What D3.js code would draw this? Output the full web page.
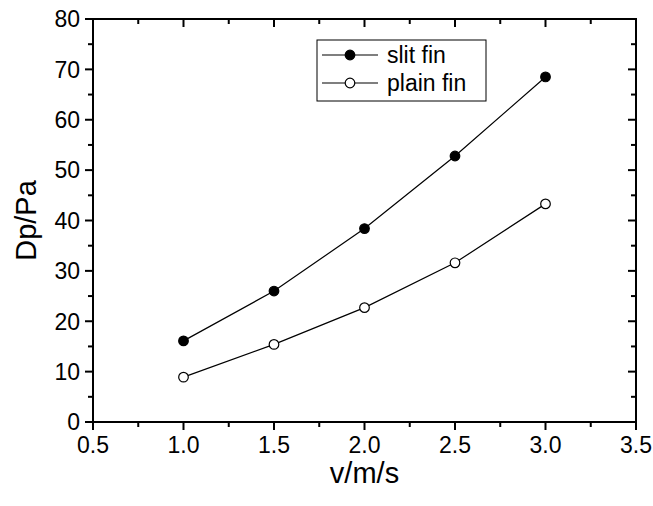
<!DOCTYPE html>
<html>
<head>
<meta charset="utf-8">
<script src="https://cdn.jsdelivr.net/npm/d3@7"></script>
<style>
  html, body { margin: 0; padding: 0; background: #fff; }
  svg text { font-family: "Liberation Sans", Arial, sans-serif; fill: #000; }
</style>
</head>
<body>
<svg id="chart" width="653" height="506"></svg>
<script>
// Air velocity (m/s) and pressure drop (Pa) for the two fin types
const velocity = [1.0, 1.5, 2.0, 2.5, 3.0];
const slitFin  = [16.1, 26.0, 38.4, 52.8, 68.5];
const plainFin = [8.9, 15.4, 22.7, 31.6, 43.3];
const seriesNames = ["slit fin", "plain fin"];
const xTicks = [0.5, 1.0, 1.5, 2.0, 2.5, 3.0, 3.5];
const yTicks = [0, 10, 20, 30, 40, 50, 60, 70, 80];

const svg = d3.select("#chart");
const plot = { left: 93, right: 636, top: 19, bottom: 422 };

const x = d3.scaleLinear().domain([0.5, 3.5]).range([plot.left, plot.right]);
const y = d3.scaleLinear().domain([0, 80]).range([plot.bottom, plot.top]);

const xMinor = d3.range(0.75, 3.5, 0.5);
const yMinor = d3.range(5, 80, 10);

// Major and minor ticks: outward on bottom/left, inward on top/right
const ticks = svg.append("g").attr("stroke", "#000").attr("stroke-width", 2);
function xTick(v, len) {
  ticks.append("line").attr("x1", x(v)).attr("x2", x(v)).attr("y1", plot.bottom).attr("y2", plot.bottom + len);
  ticks.append("line").attr("x1", x(v)).attr("x2", x(v)).attr("y1", plot.top).attr("y2", plot.top + len);
}
function yTick(v, len) {
  ticks.append("line").attr("y1", y(v)).attr("y2", y(v)).attr("x1", plot.left).attr("x2", plot.left - len);
  ticks.append("line").attr("y1", y(v)).attr("y2", y(v)).attr("x1", plot.right).attr("x2", plot.right - len);
}
xTicks.forEach(v => xTick(v, 8));
xMinor.forEach(v => xTick(v, 5));
yTicks.forEach(v => yTick(v, 8));
yMinor.forEach(v => yTick(v, 5));

// Frame
svg.append("rect")
  .attr("x", plot.left).attr("y", plot.top)
  .attr("width", plot.right - plot.left).attr("height", plot.bottom - plot.top)
  .attr("fill", "none").attr("stroke", "#000").attr("stroke-width", 2);

// Tick labels
svg.append("g").selectAll("text").data(xTicks).join("text")
  .attr("x", d => x(d)).attr("y", plot.bottom + 31)
  .attr("text-anchor", "middle").attr("font-size", 23)
  .text(d => d.toFixed(1));

svg.append("g").selectAll("text").data(yTicks).join("text")
  .attr("x", plot.left - 13).attr("y", d => y(d)).attr("dy", "0.36em")
  .attr("text-anchor", "end").attr("font-size", 23)
  .text(d => d);

// Axis titles
svg.append("text")
  .attr("x", (plot.left + plot.right) / 2).attr("y", 483)
  .attr("text-anchor", "middle").attr("font-size", 29)
  .text("v/m/s");

svg.append("text")
  .attr("transform", `translate(36,${(plot.top + plot.bottom) / 2}) rotate(-90)`)
  .attr("text-anchor", "middle").attr("font-size", 29)
  .text("Dp/Pa");

// Series
const line = d3.line().x(d => x(d[0])).y(d => y(d[1]));
const series = [
  { name: seriesNames[0], values: slitFin, fill: "#000" },
  { name: seriesNames[1], values: plainFin, fill: "#fff" }
];

series.forEach(s => {
  const pts = velocity.map((v, i) => [v, s.values[i]]);
  svg.append("path").datum(pts)
    .attr("d", line).attr("fill", "none").attr("stroke", "#000").attr("stroke-width", 1.2);
  svg.append("g").selectAll("circle").data(pts).join("circle")
    .attr("cx", d => x(d[0])).attr("cy", d => y(d[1])).attr("r", 4.8)
    .attr("fill", s.fill).attr("stroke", "#000").attr("stroke-width", 1.2);
});

// Legend
const legend = svg.append("g");
legend.append("rect")
  .attr("x", 317).attr("y", 40).attr("width", 169).attr("height", 61)
  .attr("fill", "#fff").attr("stroke", "#000").attr("stroke-width", 1);
series.forEach((s, i) => {
  const ly = 55 + i * 28;
  legend.append("line").attr("x1", 322).attr("x2", 378).attr("y1", ly).attr("y2", ly)
    .attr("stroke", "#000").attr("stroke-width", 1.2);
  legend.append("circle").attr("cx", 350).attr("cy", ly).attr("r", 4.8)
    .attr("fill", s.fill).attr("stroke", "#000").attr("stroke-width", 1.2);
  legend.append("text").attr("x", 387).attr("y", ly).attr("dy", "0.36em")
    .attr("font-size", 23).text(s.name);
});
</script>
</body>
</html>
